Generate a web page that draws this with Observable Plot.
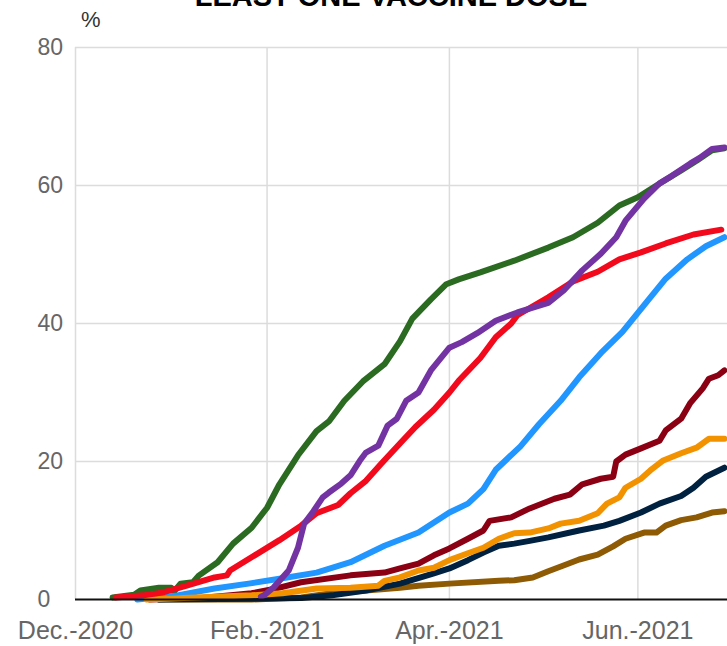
<!DOCTYPE html>
<html>
<head>
<meta charset="utf-8">
<script src="https://cdn.jsdelivr.net/npm/d3@7"></script>
<script src="https://cdn.jsdelivr.net/npm/@observablehq/plot@0.6"></script>
<style>
  html, body { margin: 0; padding: 0; background: #fff; }
  #wrap { position: relative; width: 727px; height: 646px; overflow: hidden; font-family: "Liberation Sans", Arial, sans-serif; }
  #title { position: absolute; top: -18px; left: 0; width: 782px; text-align: center; font-weight: bold; font-size: 29px; line-height: 29px; color: #000; white-space: nowrap; }
  #unit { position: absolute; left: 81px; top: 9px; font-size: 22px; line-height: 22px; color: #333; }
  #chart { position: absolute; left: 0; top: 0; }
</style>
</head>
<body>
<div id="wrap">
  <div id="chart"></div>
  <div id="title">LEAST ONE VACCINE DOSE</div>
  <div id="unit">%</div>
</div>
<script>
// Start date of the day counts
const startDate = "2020-12-01";
const endDate = "2021-06-30";

// x-axis ticks
const tickDates = ["2020-12-01", "2021-02-01", "2021-04-01", "2021-06-01"];
const tickLabels = ["Dec.-2020", "Feb.-2021", "Apr.-2021", "Jun.-2021"];
const yTicks = [0, 20, 40, 60, 80];

// Series (days since 2020-12-01, % with at least one dose)
const greenDays = [12, 19, 21, 27, 31, 32, 34, 38, 40, 46, 51, 57, 62, 66, 72, 78, 82, 87, 93, 100, 105, 109, 115, 120, 124, 131, 142, 153, 161, 169, 176, 182, 188, 196, 201, 206, 210];
const greenVals = [0.3, 0.7, 1.3, 1.7, 1.7, 1.2, 2.3, 2.5, 3.5, 5.4, 8.1, 10.4, 13.3, 16.7, 20.9, 24.4, 25.8, 28.8, 31.6, 34.1, 37.4, 40.7, 43.5, 45.7, 46.4, 47.4, 49.1, 51.0, 52.5, 54.6, 57.1, 58.3, 60.0, 62.2, 63.6, 65.1, 65.4];

const purpleDays = [60, 61, 64, 69, 72, 74, 77, 80, 82, 86, 89, 92, 94, 98, 101, 104, 107, 111, 115, 121, 125, 130, 136, 143, 153, 158, 164, 170, 175, 178, 184, 189, 193, 199, 202, 206, 210];
const purpleVals = [0.4, 0.6, 1.7, 4.2, 7.5, 11, 12.8, 14.8, 15.5, 16.8, 18, 20.1, 21.3, 22.3, 25.2, 26.2, 28.8, 30.0, 33.2, 36.5, 37.3, 38.6, 40.4, 41.6, 43.0, 44.8, 47.7, 50.1, 52.5, 54.9, 58.1, 60.3, 61.4, 63.2, 64.0, 65.3, 65.5];

const redDays = [13, 22, 28, 36, 45, 49, 50, 58, 66, 73, 78, 85, 89, 94, 99, 105, 110, 116, 121, 124, 131, 136, 141, 143, 153, 161, 169, 176, 183, 191, 200, 209];
const redVals = [0.3, 0.6, 1.0, 2.0, 3.2, 3.5, 4.2, 6.4, 8.6, 10.7, 12.5, 13.7, 15.4, 17.2, 19.7, 22.6, 25.0, 27.5, 30.0, 31.7, 35.0, 38.0, 40.0, 41.2, 43.8, 46.1, 47.5, 49.3, 50.3, 51.6, 52.9, 53.6];

const blueDays = [20, 33, 45, 56, 66, 78, 89, 100, 111, 121, 127, 132, 136, 144, 150, 157, 163, 170, 177, 185, 191, 198, 204, 210];
const blueVals = [0, 0.6, 1.6, 2.3, 3.0, 3.9, 5.4, 7.8, 9.7, 12.6, 13.9, 16.0, 18.8, 22.2, 25.4, 28.8, 32.2, 35.7, 38.8, 43.2, 46.5, 49.3, 51.2, 52.5];

const darkRedDays = [24, 40, 57, 65, 73, 89, 100, 105, 111, 116, 121, 127, 132, 134, 141, 147, 155, 160, 164, 170, 174, 175, 178, 183, 189, 191, 196, 199, 203, 205, 208, 210];
const darkRedVals = [0, 0.2, 0.9, 1.6, 2.5, 3.5, 3.9, 4.5, 5.2, 6.4, 7.4, 8.8, 10.0, 11.4, 11.9, 13.2, 14.6, 15.2, 16.7, 17.5, 17.8, 20.0, 21.0, 21.9, 23.0, 24.5, 26.2, 28.5, 30.6, 32.0, 32.5, 33.2];

const orangeDays = [23, 57, 67, 78, 89, 98, 100, 105, 111, 116, 121, 127, 132, 137, 142, 147, 153, 157, 163, 169, 172, 176, 178, 183, 186, 190, 196, 201, 205, 210];
const orangeVals = [0, 0.6, 0.9, 1.6, 1.7, 2.0, 2.7, 3.2, 4.2, 4.6, 5.7, 6.7, 7.5, 8.8, 9.6, 9.7, 10.3, 11.0, 11.4, 12.5, 13.9, 14.8, 16.2, 17.5, 18.7, 20.1, 21.2, 22.0, 23.3, 23.3];

const navyDays = [27, 57, 73, 83, 94, 105, 116, 121, 127, 132, 137, 142, 147, 153, 163, 171, 176, 183, 189, 196, 200, 204, 210];
const navyVals = [0, 0.1, 0.2, 0.6, 1.3, 2.3, 3.8, 4.5, 5.7, 6.8, 7.8, 8.1, 8.5, 9.0, 10.0, 10.7, 11.4, 12.6, 13.9, 15.0, 16.2, 17.8, 19.1];

const brownDays = [27, 57, 73, 83, 94, 105, 111, 121, 137, 142, 148, 153, 159, 163, 169, 174, 178, 184, 188, 191, 196, 201, 206, 210];
const brownVals = [0, 0, 0.3, 0.9, 1.3, 1.7, 2.0, 2.3, 2.7, 2.8, 3.2, 4.1, 5.1, 5.8, 6.5, 7.7, 8.8, 9.7, 9.7, 10.7, 11.5, 11.9, 12.6, 12.8];

// draw order (first drawn = bottom)
const seriesNames = ["S1", "S2", "S3", "S4", "S5", "S6", "S7", "S8"];
const seriesColors = ["#2a6b21", "#2196ff", "#8b0012", "#8e5a04", "#00213f", "#f39200", "#f20a1c", "#7433a2"];
const seriesDays = [greenDays, blueDays, darkRedDays, brownDays, navyDays, orangeDays, redDays, purpleDays];
const seriesVals = [greenVals, blueVals, darkRedVals, brownVals, navyVals, orangeVals, redVals, purpleVals];

const t0 = new Date(startDate);
const rows = [];
seriesNames.forEach((name, i) => {
  seriesDays[i].forEach((d, j) => {
    rows.push({ name, date: d3.utcDay.offset(t0, d), value: seriesVals[i][j] });
  });
});

const ticks = tickDates.map(d => new Date(d));
const fmt = new Map(ticks.map((d, i) => [+d, tickLabels[i]]));

const chart = Plot.plot({
  width: 727,
  height: 646,
  marginLeft: 75,
  marginRight: 0,
  marginTop: 47,
  marginBottom: 47,
  style: { fontFamily: "Liberation Sans, Arial, sans-serif", background: "#fff" },
  x: { type: "utc", domain: [t0, new Date(endDate)] },
  y: { domain: [0, 80] },
  color: { domain: seriesNames, range: seriesColors },
  marks: [
    Plot.gridY(yTicks.filter(v => v > 0), { stroke: "#dcdcdc", strokeOpacity: 1, strokeWidth: 1.5 }),
    Plot.gridX(ticks, { stroke: "#dcdcdc", strokeOpacity: 1, strokeWidth: 1.5 }),
    Plot.axisY(yTicks, { tickSize: 0, tickPadding: 0, textAnchor: "start", dx: -38, fontSize: 23, fill: "#666", label: null }),
    Plot.axisX(ticks, { tickSize: 0, tickPadding: 22, fontSize: 25, fill: "#666", tickFormat: d => fmt.get(+d), label: null }),
    Plot.line(rows, { x: "date", y: "value", z: "name", stroke: "name", strokeWidth: 6, strokeLinejoin: "round", strokeLinecap: "round" }),
    Plot.ruleY([0], { stroke: "#111", strokeWidth: 2 })
  ]
});
document.getElementById("chart").appendChild(chart);
</script>
</body>
</html>
